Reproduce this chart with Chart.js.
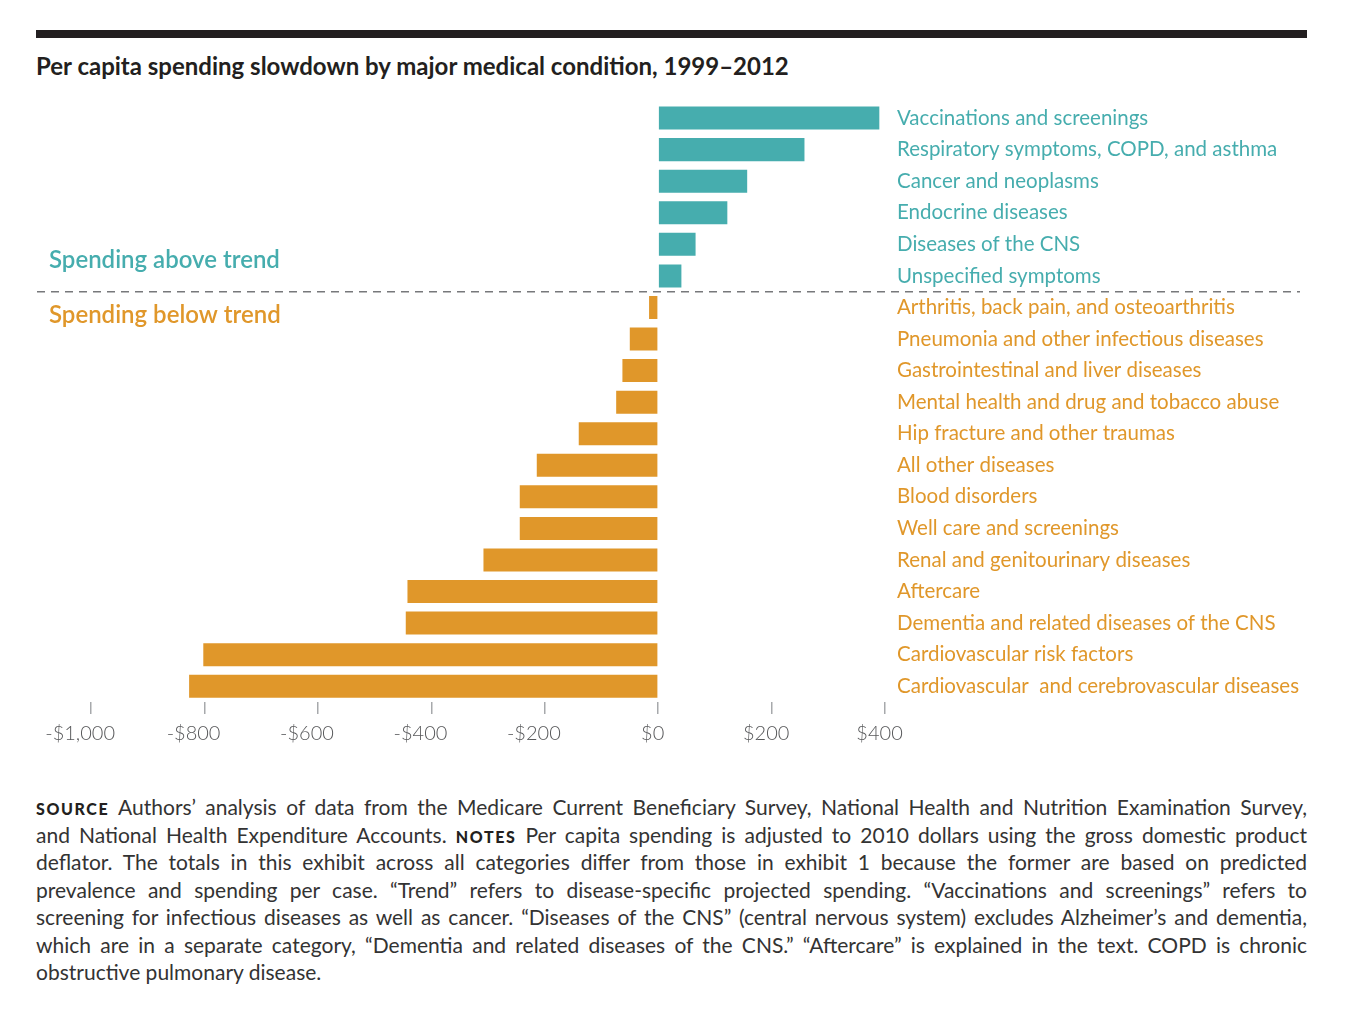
<!DOCTYPE html>
<html>
<head>
<meta charset="utf-8">
<script src="https://cdn.jsdelivr.net/npm/chart.js@4.4.0/dist/chart.umd.min.js"></script>
<style>
  body { margin: 0; background: #fff; width: 1350px; height: 1013px; position: relative; overflow: hidden; font-family: Lato, "Noto Sans", sans-serif; }
  #topbar { position: absolute; left: 36px; top: 30px; width: 1271px; height: 8px; background: #231f20; }
  #title { position: absolute; left: 36px; top: 51px; font-size: 24px; font-weight: bold; color: #231f20; white-space: nowrap; }
  #chartbox { position: absolute; left: 0; top: 86px; }
  #notes { position: absolute; left: 36px; top: 793px; width: 1271px; font-size: 21px; line-height: 27.5px; color: #333; }
  #notes div { text-align: justify; text-align-last: justify; white-space: nowrap; height: 27.5px; }
  #notes div.last { text-align-last: left; }
  .sc { font-weight: 900; font-size: 16px; letter-spacing: 1.6px; color: #231f20; }
</style>
</head>
<body>
<div id="topbar"></div>
<div id="title">Per capita spending slowdown by major medical condition, 1999–2012</div>
<div id="chartbox"><canvas id="chart" width="1350" height="684"></canvas></div>
<div id="notes">
  <div><span class="sc">SOURCE</span> Authors’ analysis of data from the Medicare Current Beneficiary Survey, National Health and Nutrition Examination Survey,</div>
  <div>and National Health Expenditure Accounts. <span class="sc">NOTES</span> Per capita spending is adjusted to 2010 dollars using the gross domestic product</div>
  <div>deflator. The totals in this exhibit across all categories differ from those in exhibit 1 because the former are based on predicted</div>
  <div>prevalence and spending per case. “Trend” refers to disease-specific projected spending. “Vaccinations and screenings” refers to</div>
  <div>screening for infectious diseases as well as cancer. “Diseases of the CNS” (central nervous system) excludes Alzheimer’s and dementia,</div>
  <div>which are in a separate category, “Dementia and related diseases of the CNS.” “Aftercare” is explained in the text. COPD is chronic</div>
  <div class="last">obstructive pulmonary disease.</div>
</div>
<script>
// categories top to bottom
const categories = [
  'Vaccinations and screenings',
  'Respiratory symptoms, COPD, and asthma',
  'Cancer and neoplasms',
  'Endocrine diseases',
  'Diseases of the CNS',
  'Unspecified symptoms',
  'Arthritis, back pain, and osteoarthritis',
  'Pneumonia and other infectious diseases',
  'Gastrointestinal and liver diseases',
  'Mental health and drug and tobacco abuse',
  'Hip fracture and other traumas',
  'All other diseases',
  'Blood disorders',
  'Well care and screenings',
  'Renal and genitourinary diseases',
  'Aftercare',
  'Dementia and related diseases of the CNS',
  'Cardiovascular risk factors',
  'Cardiovascular  and cerebrovascular diseases'
];
// per capita spending vs trend, dollars
const values = [390, 258, 157, 122, 66, 41, -16, -50, -63, -74, -140, -214, -244, -244, -308, -442, -445, -802, -827];
const tickValues = [-1000, -800, -600, -400, -200, 0, 200, 400];
const tickLabels = ['-$1,000', '-$800', '-$600', '-$400', '-$200', '$0', '$200', '$400'];

const teal = '#46adae';
const orange = '#e0972a';
const colorFor = v => v >= 0 ? teal : orange;

// dashed divider and group captions
const trendDivider = {
  id: 'trendDivider',
  afterDraw(chart) {
    const y = chart.scales.y;
    const split = values.findIndex(v => v < 0);
    const yy = (y.getPixelForValue(split - 1) + y.getPixelForValue(split)) / 2;
    const c = chart.ctx;
    c.save();
    c.strokeStyle = '#77787b';
    c.lineWidth = 1.5;
    c.setLineDash([8, 6]);
    c.beginPath();
    c.moveTo(37, yy);
    c.lineTo(1300, yy);
    c.stroke();
    c.setLineDash([]);
    c.font = '600 24px Lato';
    c.textBaseline = 'middle';
    c.textAlign = 'left';
    c.fillStyle = teal;
    c.fillText('Spending above trend', 49, yy - 31);
    c.fillStyle = orange;
    c.fillText('Spending below trend', 49, yy + 24);
    c.restore();
  }
};

new Chart(document.getElementById('chart'), {
  type: 'bar',
  data: {
    labels: categories,
    datasets: [{
      data: values,
      backgroundColor: values.map(colorFor),
      borderWidth: 0,
      barPercentage: 0.73,
      categoryPercentage: 1
    }]
  },
  options: {
    indexAxis: 'y',
    responsive: false,
    animation: false,
    layout: { padding: { left: 91, right: 0, top: 0, bottom: 0 } },
    plugins: { legend: { display: false }, tooltip: { enabled: false } },
    scales: {
      x: {
        min: -1000,
        max: 400,
        afterBuildTicks(scale) { scale.ticks = tickValues.map(v => ({ value: v })); },
        afterFit(scale) { scale.height = 68; },
        border: { display: false },
        grid: { drawOnChartArea: false, drawTicks: true, tickLength: 12, color: '#a7a9ac', lineWidth: 1.5 },
        ticks: {
          color: '#58595b',
          font: { family: 'Lato', size: 20, weight: 300 },
          padding: 8,
          maxRotation: 0,
          // labels sit a little left of their tick marks in the original
          callback: (v) => tickLabels[tickValues.indexOf(v)] + (v < 0 ? '    ' : '  ')
        }
      },
      y: {
        position: 'right',
        afterFit(scale) { scale.width = 465; },
        border: { display: false },
        grid: { display: false },
        ticks: {
          padding: 4,
          font: { family: 'Lato', size: 20.5 },
          color: ctx => colorFor(values[ctx.index])
        }
      }
    }
  },
  plugins: [trendDivider]
});
</script>
</body>
</html>
